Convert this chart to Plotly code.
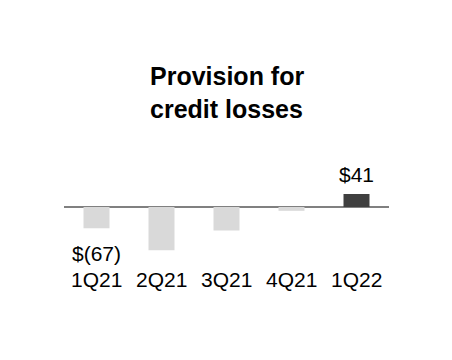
import plotly.graph_objects as go

categories = ["1Q21", "2Q21", "3Q21", "4Q21", "1Q22"]
values = [-67, -136, -74, -12, 41]
bar_colors = ["#d9d9d9", "#d9d9d9", "#d9d9d9", "#d9d9d9", "#3f3f3f"]
label_texts = {"1Q21": "$(67)", "1Q22": "$41"}
title_lines = ["Provision for", "credit losses"]

FONT = "Liberation Sans, Arial, sans-serif"
H = 360
ZERO_PX = 207
UNITS_PER_PX = 3.15
y_top = ZERO_PX * UNITS_PER_PX
y_bot = -(H - ZERO_PX) * UNITS_PER_PX

fig = go.Figure()
fig.add_trace(go.Bar(
    x=categories, y=values, width=0.4,
    marker=dict(color=bar_colors, line=dict(width=0)),
    hoverinfo="skip",
))

annotations = []
# category labels
for c in categories:
    annotations.append(dict(
        x=c, y=0, xref="x", yref="y", text=c, showarrow=False,
        yanchor="middle", yshift=-72,
        font=dict(family=FONT, size=21, color="#000000"),
    ))
# value labels
for c, v in zip(categories, values):
    if c in label_texts:
        if v >= 0:
            annotations.append(dict(
                x=c, y=v, xref="x", yref="y", text=label_texts[c], showarrow=False,
                yanchor="bottom", yshift=6,
                font=dict(family=FONT, size=21, color="#000000"),
            ))
        else:
            annotations.append(dict(
                x=c, y=v, xref="x", yref="y", text=label_texts[c], showarrow=False,
                yanchor="top", yshift=-12,
                font=dict(family=FONT, size=21, color="#000000"),
            ))
# title
for i, line in enumerate(title_lines):
    annotations.append(dict(
        x=0.5, y=1 - (76 + i * 33) / H, xref="paper", yref="paper",
        text="<b>%s</b>" % line, showarrow=False, yanchor="middle", xanchor="center",
        font=dict(family=FONT, size=25, color="#000000"),
    ))

fig.update_layout(
    width=452, height=H,
    margin=dict(l=64, r=63, t=0, b=0, pad=0),
    paper_bgcolor="white", plot_bgcolor="white",
    showlegend=False,
    bargap=0.6,
    xaxis=dict(showticklabels=False, showgrid=False, zeroline=False, showline=False,
               range=[-0.5, 4.5], fixedrange=True),
    yaxis=dict(showticklabels=False, showgrid=False, zeroline=True,
               zerolinecolor="#808080", zerolinewidth=2,
               range=[y_bot, y_top], fixedrange=True),
    annotations=annotations,
)
fig.write_html("out.html", config={"displayModeBar": False})
